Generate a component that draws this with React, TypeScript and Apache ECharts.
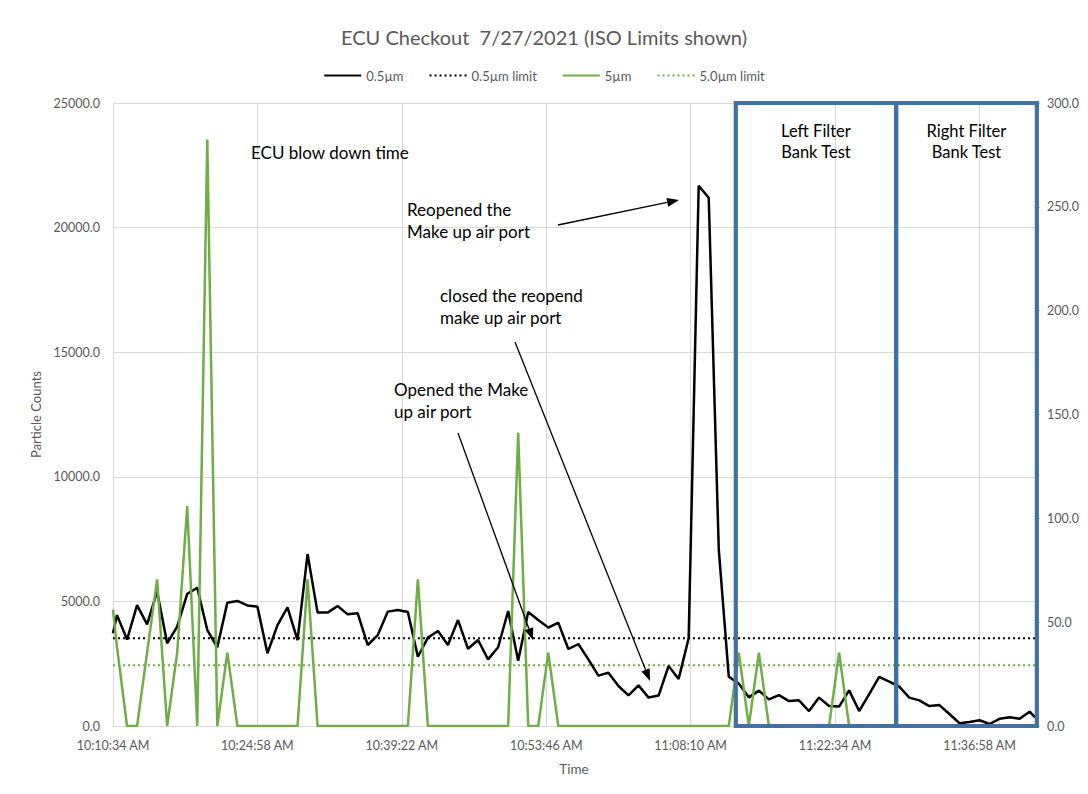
import React, { useEffect, useRef } from "react";
import * as echarts from "echarts";

// ---- data ----
const times: string[] = [
  "10:10:34", "10:10:58", "10:11:58", "10:12:58", "10:13:58", "10:14:58", "10:15:58", "10:16:58", "10:17:58", "10:18:58",
  "10:19:58", "10:20:58", "10:21:58", "10:22:58", "10:23:58", "10:24:58", "10:25:58", "10:26:58", "10:27:58", "10:28:58",
  "10:29:58", "10:30:58", "10:31:58", "10:32:58", "10:33:58", "10:34:58", "10:35:58", "10:36:58", "10:37:58", "10:38:58",
  "10:39:58", "10:40:58", "10:41:58", "10:42:58", "10:43:58", "10:44:58", "10:45:58", "10:46:58", "10:47:58", "10:48:58",
  "10:49:58", "10:50:58", "10:51:58", "10:52:58", "10:53:58", "10:54:58", "10:55:58", "10:56:58", "10:57:58", "10:58:58",
  "10:59:58", "11:00:58", "11:01:58", "11:02:58", "11:03:58", "11:04:58", "11:05:58", "11:06:58", "11:07:58", "11:08:58",
  "11:09:58", "11:10:58", "11:11:58", "11:12:58", "11:13:58", "11:14:58", "11:15:58", "11:16:58", "11:17:58", "11:18:58",
  "11:19:58", "11:20:58", "11:21:58", "11:22:58", "11:23:58", "11:24:58", "11:25:58", "11:26:58", "11:27:58", "11:28:58",
  "11:29:58", "11:30:58", "11:31:58", "11:32:58", "11:33:58", "11:34:58", "11:35:58", "11:36:58", "11:37:58", "11:38:58",
  "11:39:58", "11:40:58", "11:41:58", "11:42:30",
];

// 0.5 µm counts (left axis)
const pm05: number[] = [
  3720, 4450, 3470, 4850, 4080, 5390, 3320, 3990, 5300, 5550,
  3850, 3160, 4950, 5020, 4840, 4790, 2920, 4050, 4760, 3450,
  6900, 4550, 4550, 4815, 4480, 4520, 3250, 3650, 4590, 4655,
  4575, 2780, 3545, 3810, 3250, 4250, 3100, 3450, 2675, 3160,
  4615, 2620, 4575, 4250, 3950, 4150, 3090, 3290, 2675, 2020,
  2140, 1605, 1230, 1630, 1140, 1220, 2410, 1890, 3520, 21680,
  21200, 7100, 1980, 1700, 1150, 1420, 1070, 1240, 1000, 1030,
  600, 1140, 800, 780, 1430, 600, 1280, 1970, 1780, 1580,
  1140, 1030, 800, 840, 480, 110, 160, 230, 80, 290,
  350, 290, 575, 350,
];

// 5 µm counts (right axis)
const pm5: number[] = [
  56, 38, 0, 0, 35.3, 70.6, 0, 35.3, 105.9, 0,
  282.4, 0, 35.3, 0, 0, 0, 0, 0, 0, 0,
  70.6, 0, 0, 0, 0, 0, 0, 0, 0, 0,
  0, 70.6, 0, 0, 0, 0, 0, 0, 0, 0,
  0, 141.2, 0, 0, 35.3, 0, 0, 0, 0, 0,
  0, 0, 0, 0, 0, 0, 0, 0, 0, 0,
  0, 0, 0, 35.3, 0, 35.3, 0, 0, 0, 0,
  0, 0, 0, 35.3, 0, 0, 0, 0, 0, 0,
  0, 0, 0, 0, 0, 0, 0, 0, 0, 0,
  0, 0, 0, 0,
];

const LIMIT_05 = 3520;
const LIMIT_5 = 29.3;

const leftAxis = { min: 0, max: 25000, interval: 5000 };
const rightAxis = { min: 0, max: 300, interval: 50 };
const X_TICK_SECONDS = 864; // 0.01 day

const boxes = [
  { from: "11:12:40", to: "11:28:39", label: "Left Filter\nBank Test" },
  { from: "11:28:39", to: "11:42:41", label: "Right Filter\nBank Test" },
];

const FONT = "Lato";

function toSec(t: string): number {
  const [h, m, s] = t.split(":").map(Number);
  return h * 3600 + m * 60 + s;
}
const T0 = toSec(times[0]);
const pad = (n: number) => (n < 10 ? "0" + n : "" + n);
function fmtTime(rel: number): string {
  const total = Math.round(T0 + rel);
  const h = Math.floor(total / 3600);
  const m = Math.floor((total % 3600) / 60);
  const s = total % 60;
  const ampm = h >= 12 ? "PM" : "AM";
  const h12 = h % 12 === 0 ? 12 : h % 12;
  return `${h12}:${pad(m)}:${pad(s)} ${ampm}`;
}

function arrow(x1: number, y1: number, x2: number, y2: number) {
  const ang = Math.atan2(y2 - y1, x2 - x1);
  const len = 12;
  const hw = 4.5;
  const bx = x2 - len * Math.cos(ang);
  const by = y2 - len * Math.sin(ang);
  const nx = -Math.sin(ang);
  const ny = Math.cos(ang);
  return [
    { type: "line", shape: { x1, y1, x2: bx, y2: by }, style: { stroke: "#000", lineWidth: 1.3 }, z: 100 },
    {
      type: "polygon",
      shape: { points: [[x2, y2], [bx + nx * hw, by + ny * hw], [bx - nx * hw, by - ny * hw]] },
      style: { fill: "#000" },
      z: 100,
    },
  ];
}

export default function App() {
  const ref = useRef<HTMLDivElement>(null);
  useEffect(() => {
    document.body.style.margin = "0";
    const chart = echarts.init(ref.current!, undefined, { renderer: "svg" });
    const xs = times.map((t) => toSec(t) - T0);
    const xMax = xs[xs.length - 1];
    const option: any = {
      animation: false,
      backgroundColor: "#fff",
      title: {
        text: "ECU Checkout  7/27/2021 (ISO Limits shown)",
        left: "center",
        top: 22,
        textStyle: { fontFamily: FONT, fontSize: 20, fontWeight: "normal", color: "#595959" },
      },
      legend: {
        top: 64,
        left: "center",
        itemWidth: 37,
        itemHeight: 10,
        itemGap: 25,
        itemStyle: { opacity: 0 },
        textStyle: { fontFamily: FONT, fontSize: 13, color: "#595959" },
        data: ["0.5µm", "0.5µm limit", "5µm", "5.0µm limit"],
      },
      grid: { left: 113, right: 53, top: 103, bottom: 68, containLabel: false },
      xAxis: {
        type: "value",
        min: 0,
        max: xMax,
        interval: X_TICK_SECONDS,
        name: "Time",
        nameLocation: "middle",
        nameGap: 36,
        nameTextStyle: { fontFamily: FONT, fontSize: 13.5, color: "#595959" },
        axisLine: { show: true, lineStyle: { color: "#D9D9D9", width: 1 } },
        axisTick: { show: false },
        splitLine: { show: true, lineStyle: { color: "#D9D9D9", width: 1 } },
        axisLabel: {
          fontFamily: FONT,
          fontSize: 12.5,
          color: "#595959",
          margin: 13,
          showMaxLabel: false,
          formatter: (v: number) => {
            const k = v / X_TICK_SECONDS;
            return Math.abs(k - Math.round(k)) < 1e-6 ? fmtTime(v) : "";
          },
        },
      },
      yAxis: [
        {
          type: "value",
          ...leftAxis,
          name: "Particle Counts",
          nameLocation: "middle",
          nameGap: 70,
          nameRotate: 90,
          nameTextStyle: { fontFamily: FONT, fontSize: 13, color: "#595959" },
          axisLine: { show: true, lineStyle: { color: "#D9D9D9" } },
          axisTick: { show: false },
          splitLine: { show: true, lineStyle: { color: "#D9D9D9", width: 1 } },
          axisLabel: {
            fontFamily: FONT,
            fontSize: 12.5,
            color: "#595959",
            margin: 13,
            formatter: (v: number) => v.toFixed(1),
          },
        },
        {
          type: "value",
          position: "right",
          ...rightAxis,
          axisLine: { show: false },
          axisTick: { show: true, length: 5, lineStyle: { color: "#BFBFBF" } },
          splitLine: { show: false },
          axisLabel: {
            fontFamily: FONT,
            fontSize: 12.5,
            color: "#595959",
            margin: 12,
            formatter: (v: number) => v.toFixed(1),
          },
        },
      ],
      series: [
        {
          name: "0.5µm",
          type: "line",
          yAxisIndex: 0,
          symbol: "none",
          data: xs.map((x, i) => [x, pm05[i]]),
          lineStyle: { color: "#000000", width: 2.5 },
          itemStyle: { color: "#000000" },
          z: 3,
        },
        {
          name: "0.5µm limit",
          type: "line",
          yAxisIndex: 0,
          symbol: "none",
          data: [[0, LIMIT_05], [xMax, LIMIT_05]],
          lineStyle: { color: "#000000", width: 2, type: [2, 3] },
          itemStyle: { color: "#000000" },
          z: 2,
        },
        {
          name: "5µm",
          type: "line",
          yAxisIndex: 1,
          symbol: "none",
          data: xs.map((x, i) => [x, pm5[i]]),
          lineStyle: { color: "#70AD47", width: 2.5 },
          itemStyle: { color: "#70AD47" },
          z: 4,
        },
        {
          name: "5.0µm limit",
          type: "line",
          yAxisIndex: 1,
          symbol: "none",
          data: [[0, LIMIT_5], [xMax, LIMIT_5]],
          lineStyle: { color: "#70AD47", width: 2, type: [2, 3] },
          itemStyle: { color: "#70AD47" },
          z: 2,
        },
      ],
    };
    chart.setOption(option);

    const px = (t: string, v: number) =>
      chart.convertToPixel({ xAxisIndex: 0, yAxisIndex: 0 }, [toSec(t) - T0, v]) as number[];

    const graphics: any[] = [];
    boxes.forEach((b) => {
      const p1 = px(b.from, leftAxis.max);
      const p2 = px(b.to, leftAxis.min);
      graphics.push({
        type: "rect",
        shape: { x: p1[0], y: p1[1], width: p2[0] - p1[0], height: p2[1] - p1[1] },
        style: { fill: "none", stroke: "#41719C", lineWidth: 4.2 },
        z: 90,
      });
      graphics.push({
        type: "text",
        x: (p1[0] + p2[0]) / 2,
        y: 141,
        style: {
          text: b.label,
          fontFamily: FONT,
          fontSize: 16.5,
          fill: "#000",
          align: "center",
          verticalAlign: "middle",
          lineHeight: 21,
        },
        z: 100,
      });
    });

    const notes = [
      { text: "ECU blow down time", x: 251, y: 152 },
      { text: "Reopened the\nMake up air port", x: 407, y: 220 },
      { text: "closed the reopend\nmake up air port", x: 440, y: 306 },
      { text: "Opened the Make\nup air port", x: 394, y: 400 },
    ];
    notes.forEach((n) =>
      graphics.push({
        type: "text",
        x: n.x,
        y: n.y,
        style: {
          text: n.text,
          fontFamily: FONT,
          fontSize: 17,
          fill: "#000",
          align: "left",
          verticalAlign: "middle",
          lineHeight: 22,
        },
        z: 100,
      })
    );
    graphics.push(...arrow(558, 225, 679, 200));
    graphics.push(...arrow(515, 342, 650, 681));
    graphics.push(...arrow(458, 433, 533, 640));

    chart.setOption({ graphic: graphics });

    return () => chart.dispose();
  }, []);

  return (
    <div
      ref={ref}
      style={{ position: "absolute", left: 0, top: 0, width: 1088, height: 794, background: "#fff" }}
    />
  );
}
